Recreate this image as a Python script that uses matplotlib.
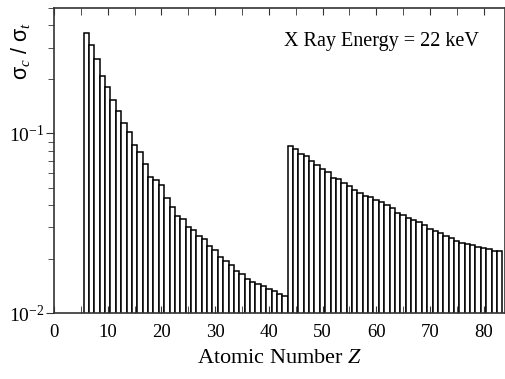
import matplotlib
matplotlib.use('Agg')
import matplotlib.pyplot as plt
from matplotlib.ticker import LogLocator, MultipleLocator, NullFormatter

plt.rcParams['font.family'] = 'Liberation Serif'
plt.rcParams['mathtext.fontset'] = 'custom'
plt.rcParams['mathtext.rm'] = 'Liberation Serif'
plt.rcParams['mathtext.it'] = 'Liberation Serif:italic'
plt.rcParams['mathtext.sf'] = 'Liberation Sans'

# atomic number Z and Compton / total cross-section ratio at 22 keV
Z = list(range(6, 84))
ratio_low = [0.362, 0.311, 0.259, 0.209, 0.181, 0.153, 0.134, 0.1137, 0.1017,
             0.0865, 0.0786, 0.0680, 0.0573, 0.0553, 0.0517,            # Z = 6..20
             0.0440, 0.0388, 0.0348, 0.0332, 0.0301, 0.0291, 0.0269,
             0.0260, 0.0235, 0.0225, 0.0206, 0.0195, 0.0184, 0.0172,
             0.0166, 0.0155, 0.0149, 0.0145, 0.0141, 0.0137, 0.0132,
             0.0128, 0.0124]                                            # Z = 21..43
ratio_high = [0.0857, 0.0821, 0.0771, 0.0747, 0.0700, 0.0665, 0.0635, 0.0608,
              0.0565, 0.0558, 0.0530, 0.0508, 0.0482, 0.0466, 0.0450, 0.0443,
              0.0424, 0.0415, 0.0398, 0.0385,                           # Z = 44..63
              0.0361, 0.0352, 0.0339, 0.0331, 0.0320, 0.0310, 0.0293, 0.0287,
              0.0279, 0.0269, 0.0261, 0.0252, 0.0245, 0.0241, 0.0238, 0.0234,
              0.0231, 0.0226, 0.0223, 0.0223]                           # Z = 64..83
ratio = ratio_low + ratio_high

fig = plt.figure(figsize=(5.06, 3.79), dpi=100)
ax = fig.add_axes([0.107, 0.174, 0.891, 0.805])

ax.bar(Z, ratio, width=1.0, color='white', edgecolor='black', linewidth=1.1)

ax.set_yscale('log')
ax.set_xlim(0, 84)
ax.set_ylim(0.01, 0.5)

ax.xaxis.set_major_locator(MultipleLocator(10))
ax.xaxis.set_minor_locator(MultipleLocator(5))
ax.yaxis.set_major_locator(LogLocator(base=10))
ax.yaxis.set_minor_locator(LogLocator(base=10, subs=range(2, 10)))
ax.yaxis.set_minor_formatter(NullFormatter())

ax.tick_params(axis='x', which='both', direction='in', top=True, labelsize=13.5,
               color='#333333', pad=8)
ax.tick_params(axis='x', which='major', length=5)
ax.tick_params(axis='x', which='minor', length=5)
ax.tick_params(axis='y', which='both', direction='out', labelsize=14,
               color='#333333', pad=1)
ax.tick_params(axis='y', which='major', length=6)
ax.tick_params(axis='y', which='minor', length=4)
for s in ax.spines.values():
    s.set_linewidth(1.2)
    s.set_color('#333333')

ax.set_xlabel('Atomic Number $Z$', fontsize=16, labelpad=6)
ax.set_ylabel('σ$_c$ / σ$_t$', fontsize=15.5, fontfamily='Liberation Sans')
ax.yaxis.set_label_coords(-0.05, 0.86)

ax.text(0.727, 0.89, 'X Ray Energy = 22 keV', transform=ax.transAxes,
        ha='center', va='center', fontsize=14.5)

fig.savefig('out.png', dpi=100)
